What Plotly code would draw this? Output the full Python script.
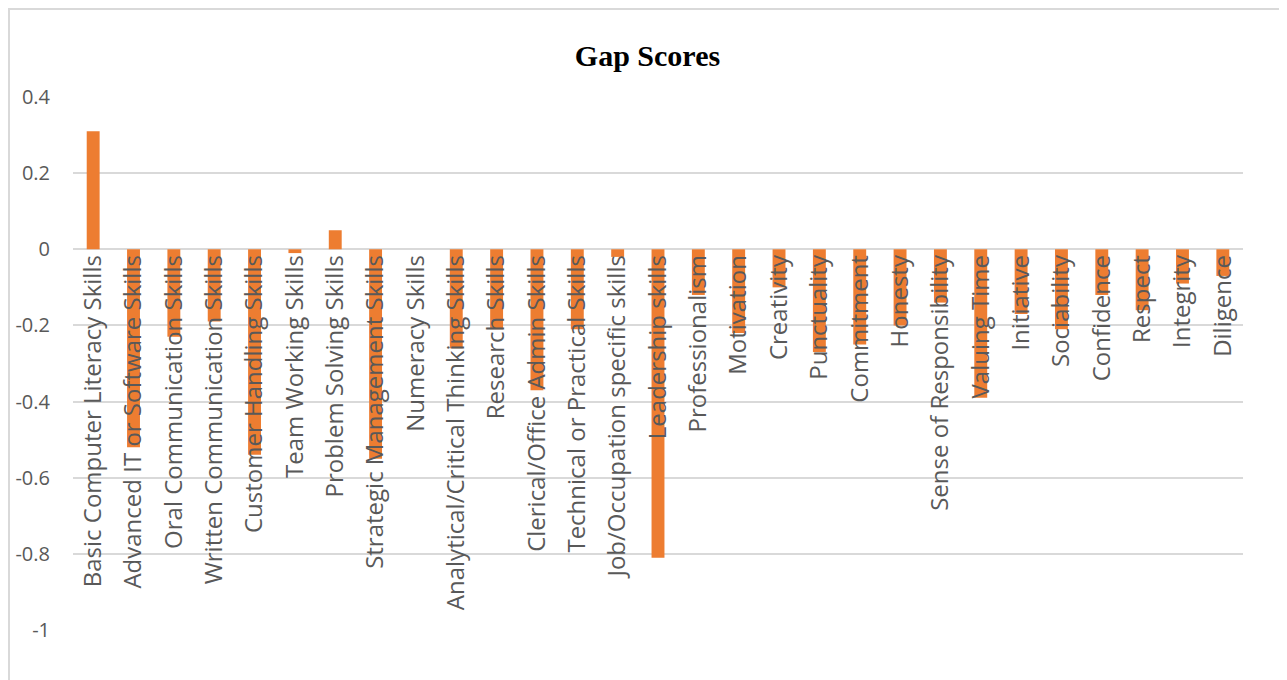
import plotly.graph_objects as go

# skills and their gap scores
skills = [
    "Basic Computer Literacy Skills",
    "Advanced IT or Software Skills",
    "Oral Communication Skills",
    "Written Communication Skills",
    "Customer Handling Skills",
    "Team Working Skills",
    "Problem Solving Skills",
    "Strategic Management Skills",
    "Numeracy Skills",
    "Analytical/Critical Thinking Skills",
    "Research Skills",
    "Clerical/Office Admin Skills",
    "Technical or Practical Skills",
    "Job/Occupation specific skills",
    "Leadership skills",
    "Professionalism",
    "Motivation",
    "Creativity",
    "Punctuality",
    "Commitment",
    "Honesty",
    "Sense of Responsibility",
    "Valuing Time",
    "Initiative",
    "Sociability",
    "Confidence",
    "Respect",
    "Integrity",
    "Diligence",
]
gap_scores = [
    0.31, -0.52, -0.23, -0.19, -0.54, -0.01, 0.05, -0.55, 0.0, -0.26,
    -0.21, -0.37, -0.21, -0.02, -0.81, -0.12, -0.22, -0.10, -0.27, -0.25,
    -0.20, -0.14, -0.39, -0.17, -0.21, -0.12, -0.16, -0.09, -0.07,
]
y_ticks = [0.4, 0.2, 0, -0.2, -0.4, -0.6, -0.8, -1]
y_tick_text = ["0.4", "0.2", "0", "-0.2", "-0.4", "-0.6", "-0.8", "-1"]

y_min, y_max = -1, 0.4
grey_text = "#595959"
grid_grey = "#D9D9D9"

# the page body adds an 8px offset, so the figure is 8px smaller
W, H = 1279, 672
L, R, T, B = 65, 44, 89, 50
plot_w = W - L - R
plot_h = H - T - B

fig = go.Figure()
fig.add_trace(go.Bar(
    x=skills,
    y=gap_scores,
    marker=dict(color="#ED7D31", line=dict(width=0)),
    hoverinfo="x+y",
))

fig.update_layout(
    width=W,
    height=H,
    margin=dict(l=L, r=R, t=T, b=B),
    paper_bgcolor="white",
    plot_bgcolor="white",
    showlegend=False,
    bargap=0.68,
    title=dict(
        text="<b>Gap Scores</b>",
        x=0.5, xanchor="center",
        y=1 - 47 / H, yanchor="middle", yref="container",
        font=dict(family="Liberation Serif", size=30, color="black"),
    ),
    # grey frame round the chart area
    shapes=[dict(
        type="rect", xref="paper", yref="paper",
        x0=(1 - L) / plot_w, x1=(1272 - L) / plot_w,
        y0=-0.3, y1=(H - B - 1) / plot_h,
        line=dict(color=grid_grey, width=2),
        fillcolor="rgba(0,0,0,0)", layer="below",
    )],
)

# category labels sit on the zero line, like Excel's "next to axis"
fig.update_xaxes(
    anchor="free",
    position=(0 - y_min) / (y_max - y_min),
    tickangle=-90,
    tickfont=dict(family="Open Sans", size=24, color=grey_text),
    showline=False,
    showgrid=False,
    ticks="",
    automargin=False,
)
fig.update_yaxes(
    range=[y_min, y_max],
    tickvals=y_ticks,
    ticktext=y_tick_text,
    tickfont=dict(family="Open Sans", size=20, color=grey_text),
    ticklabelstandoff=22,
    showgrid=True,
    gridcolor=grid_grey,
    gridwidth=2,
    zeroline=True,
    zerolinecolor=grid_grey,
    zerolinewidth=2,
    showline=False,
    automargin=False,
)

fig.write_html("out.html")
